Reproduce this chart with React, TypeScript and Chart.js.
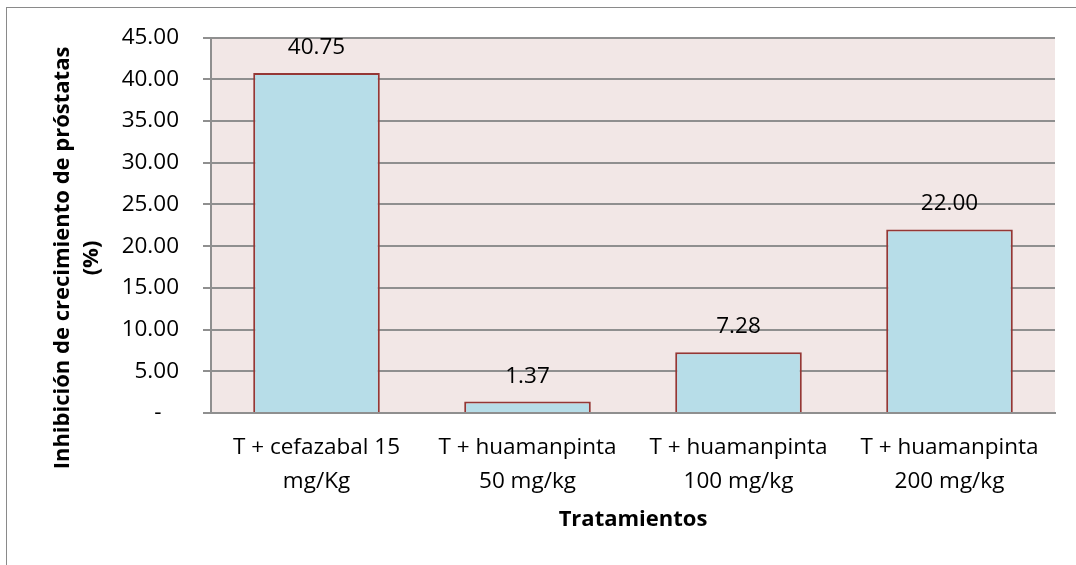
import React, { useEffect, useRef } from 'react';
import { Chart, registerables } from 'chart.js';

Chart.register(...registerables);

const categories: string[][] = [
  ['T + cefazabal 15', 'mg/Kg'],
  ['T + huamanpinta', '50 mg/kg'],
  ['T + huamanpinta', '100 mg/kg'],
  ['T + huamanpinta', '200 mg/kg'],
];
const values: number[] = [40.75, 1.37, 7.28, 22.0];
const yTitleLines: string[] = ['Inhibición de crecimiento de próstatas', '(%)'];
const xTitle = 'Tratamientos';
const yMin = 0;
const yMax = 45;
const yStep = 5;

const FONT = "'Open Sans', 'DejaVu Sans', sans-serif";
const GRID = '#8f8f8f';

const bgPlugin = {
  id: 'plotBg',
  beforeDraw(chart: any) {
    const { ctx, chartArea } = chart;
    ctx.save();
    ctx.fillStyle = '#F2E7E6';
    ctx.fillRect(chartArea.left, chartArea.top, chartArea.right - chartArea.left, chartArea.bottom - chartArea.top);
    ctx.restore();
  },
};

const labelPlugin = {
  id: 'valueLabels',
  afterDatasetsDraw(chart: any) {
    const { ctx } = chart;
    const meta = chart.getDatasetMeta(0);
    ctx.save();
    ctx.font = `22.5px ${FONT}`;
    ctx.fillStyle = '#000';
    ctx.textAlign = 'center';
    ctx.textBaseline = 'alphabetic';
    meta.data.forEach((el: any, i: number) => {
      const v = chart.data.datasets[0].data[i] as number;
      ctx.fillText(v.toFixed(2), el.x, el.y - 19);
    });
    ctx.restore();
  },
};

const yTitlePlugin = {
  id: 'yTitle',
  afterDraw(chart: any) {
    const { ctx } = chart;
    const centerY = 258;
    const baselines = [69, 98];
    ctx.save();
    ctx.font = `bold 22px ${FONT}`;
    ctx.fillStyle = '#000';
    ctx.textAlign = 'center';
    ctx.textBaseline = 'alphabetic';
    yTitleLines.forEach((line, i) => {
      ctx.save();
      ctx.translate(baselines[i], centerY);
      ctx.rotate(-Math.PI / 2);
      ctx.fillText(line, 0, 0);
      ctx.restore();
    });
    ctx.restore();
  },
};

export default function App() {
  const ref = useRef<HTMLCanvasElement | null>(null);

  useEffect(() => {
    if (!ref.current) return;
    const chart = new Chart(ref.current, {
      type: 'bar',
      data: {
        labels: categories,
        datasets: [
          {
            data: values,
            backgroundColor: '#B7DDE8',
            borderColor: '#953735',
            borderWidth: 2,
            barPercentage: 0.6,
            categoryPercentage: 1.0,
          },
        ],
      },
      options: {
        responsive: false,
        animation: false,
        devicePixelRatio: 1,
        layout: { padding: { top: 37, right: 21, left: 0, bottom: 0 } },
        plugins: {
          legend: { display: false },
          tooltip: { enabled: false },
          title: { display: false },
        },
        scales: {
          x: {
            afterFit: (s: any) => {
              s.height = 152;
            },
            grid: { display: false, drawTicks: false },
            border: { display: true, color: GRID, width: 2 },
            ticks: {
              color: '#000',
              padding: 18,
              font: { family: FONT, size: 22.5, lineHeight: 34 / 22.5 },
              maxRotation: 0,
              autoSkip: false,
            },
            title: {
              display: true,
              text: xTitle,
              color: '#000',
              font: { family: FONT, size: 22, weight: 'bold', lineHeight: 1.2 },
              padding: { top: 0, bottom: 32 },
            },
          },
          y: {
            min: yMin,
            max: yMax,
            afterFit: (s: any) => {
              s.width = 211;
            },
            grid: { color: GRID, lineWidth: 2, tickLength: 8, drawTicks: true },
            border: { display: true, color: GRID, width: 2 },
            ticks: {
              stepSize: yStep,
              color: '#000',
              padding: 24,
              font: { family: FONT, size: 22.5 },
              callback: (v: any) => (Number(v) === 0 ? '-   ' : Number(v).toFixed(2)),
            },
            title: { display: false },
          },
        },
      },
      plugins: [bgPlugin, labelPlugin, yTitlePlugin],
    });
    return () => chart.destroy();
  }, []);

  return (
    <>
      <div
        style={{
          position: 'fixed',
          left: 6,
          top: 7,
          width: 1070,
          height: 558,
          borderTop: '1px solid #8a8a8a',
          borderLeft: '1px solid #8a8a8a',
          pointerEvents: 'none',
        }}
      />
      <canvas
        ref={ref}
        width={1076}
        height={565}
        style={{ position: 'fixed', left: 0, top: 0, width: 1076, height: 565, display: 'block' }}
      />
    </>
  );
}
